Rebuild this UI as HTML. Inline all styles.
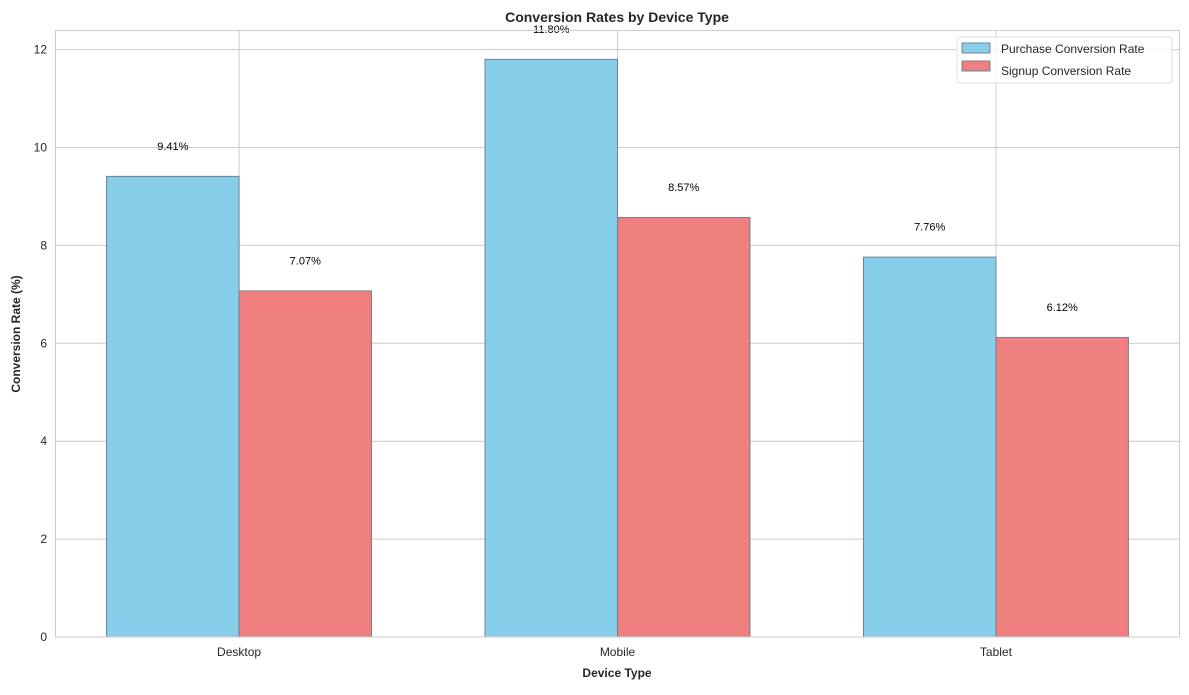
<!DOCTYPE html>
<html><head><meta charset="utf-8"><style>
body{margin:0;background:#fff;font-family:"Liberation Sans",Arial,sans-serif;}
svg text{font-family:"Liberation Sans",Arial,sans-serif;}
</style></head><body>
<svg id="chart" width="1189" height="690" xmlns="http://www.w3.org/2000/svg">
<rect width="1189" height="690" fill="#fff"/>
<g id="grid"></g>
<g id="bars"></g>
<g id="labels"></g>
<rect x="55.5" y="30.5" width="1124" height="606.5" fill="none" stroke="#cccccc" stroke-width="1"/>
<g id="ticks"></g>
<text x="617" y="22" text-anchor="middle" font-size="14" font-weight="bold" fill="#262626">Conversion Rates by Device Type</text>
<text x="617" y="677" text-anchor="middle" font-size="12" font-weight="bold" fill="#262626">Device Type</text>
<text transform="translate(20,334) rotate(-90)" text-anchor="middle" font-size="12" font-weight="bold" fill="#262626">Conversion Rate (%)</text>
<g>
<rect x="957" y="37" width="215" height="46" rx="3" fill="#fff" fill-opacity="0.8" stroke="#dddddd"/>
<rect x="962" y="43" width="28" height="10" fill="#87ceeb" stroke="#708090"/>
<text x="1001" y="53" font-size="12" fill="#262626">Purchase Conversion Rate</text>
<rect x="962" y="61" width="28" height="10" fill="#f08080" stroke="#708090"/>
<text x="1001" y="75" font-size="12" fill="#262626">Signup Conversion Rate</text>
</g>
</svg>
<script>
const categories = ["Desktop","Mobile","Tablet"];
const purchaseValues = [9.41, 11.80, 7.76];
const signupValues = [7.07, 8.57, 6.12];
const yTicks = [0,2,4,6,8,10,12];
const NS="http://www.w3.org/2000/svg";
const ymax = Math.max(...purchaseValues, ...signupValues)*1.05;
const y = v => 637 - v/ymax*606.5;
const xmin=-0.485, xmax=2.485;
const x = v => 55.5 + (v-xmin)/(xmax-xmin)*1124;
const W=0.35;
function mk(tag, attrs, parent){const e=document.createElementNS(NS,tag);for(const k in attrs)e.setAttribute(k,attrs[k]);document.getElementById(parent).appendChild(e);return e;}
yTicks.forEach(t=>{
  const l=mk('line',{x1:55.5,x2:1179.5,y1:y(t),y2:y(t),stroke:'#cccccc','stroke-width':1},'grid');
  
  
  const tx=mk('text',{x:47,y:y(t)+4,'text-anchor':'end','font-size':12,fill:'#262626'},'ticks');
  tx.textContent=t;
  
  
});
categories.forEach((c,i)=>{
  const l=mk('line',{x1:x(i),x2:x(i),y1:30.5,y2:637,stroke:'#cccccc','stroke-width':1},'grid');
  
  
  const tx=mk('text',{x:x(i),y:656,'text-anchor':'middle','font-size':12,fill:'#262626'},'ticks');
  tx.textContent=c;
  
  
});
function series(vals, offset, color, name){
  vals.forEach((v,i)=>{
    const x0=x(i+offset-W/2), x1=x(i+offset+W/2);
    const r=mk('rect',{x:x0,y:y(v),width:x1-x0,height:637-y(v),fill:color,stroke:'#708090','stroke-width':1},'bars');
    
    
    const t=mk('text',{x:(x0+x1)/2,y:y(v+0.5)-2,'text-anchor':'middle','font-size':11,fill:'#000'},'labels');
    t.textContent=v.toFixed(2)+'%';
    
    
  });
}
series(purchaseValues,-W/2,'#87ceeb','purchase');
series(signupValues,W/2,'#f08080','signup');
</script>
</body></html>
